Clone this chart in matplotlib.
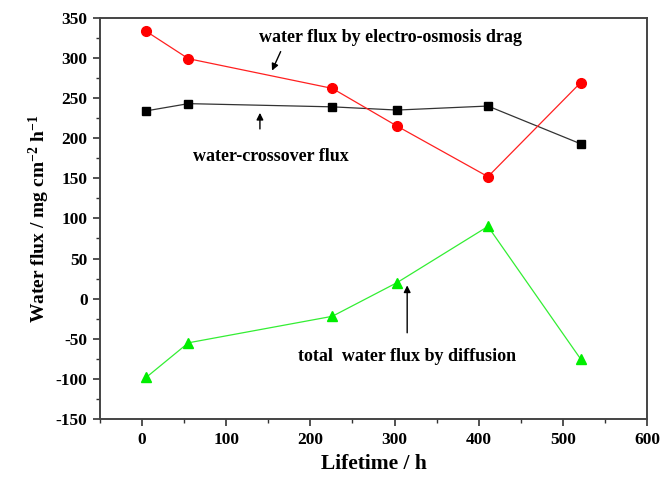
import matplotlib
matplotlib.use("Agg")
import matplotlib.pyplot as plt
from matplotlib.ticker import MultipleLocator

lifetime = [5, 55, 226, 303, 411, 521]
electro_osmosis = [333, 299, 262, 215, 152, 269]
crossover = [234, 243, 239, 235, 240, 193]
diffusion = [-98, -55, -22, 20, 90, -75]

xticks = [0, 100, 200, 300, 400, 500, 600]
yticks = [-150, -100, -50, 0, 50, 100, 150, 200, 250, 300, 350]

plt.rcParams['font.family'] = ['Liberation Serif', 'DejaVu Serif']
plt.rcParams['font.weight'] = 'bold'
plt.rcParams['axes.unicode_minus'] = False
plt.rcParams['mathtext.fontset'] = 'custom'
plt.rcParams['mathtext.rm'] = 'Liberation Serif:bold'
plt.rcParams['mathtext.bf'] = 'Liberation Serif:bold'
plt.rcParams['mathtext.default'] = 'rm'

fig = plt.figure(figsize=(6.67, 4.8), dpi=100)
ax = fig.add_axes([0.150, 0.127, 0.820, 0.836])

ax.plot(lifetime, crossover, color='#333333', lw=0.9, marker='s', ms=6,
        mfc='black', mec='black', zorder=3)
ax.plot(lifetime, electro_osmosis, color='#ff2020', lw=0.9, marker='o', ms=7,
        mfc='#ff0000', mec='#ff0000', zorder=3)
ax.plot(lifetime, diffusion, color='#33ee33', lw=0.9, marker='^', ms=7.5,
        mfc='#00ee00', mec='#00ee00', zorder=3)

ax.set_xlim(-50, 600)
ax.set_ylim(-150, 350)
ax.set_xticks(xticks)
ax.set_yticks(yticks)
ax.xaxis.set_minor_locator(MultipleLocator(50))
ax.yaxis.set_minor_locator(MultipleLocator(25))
ax.tick_params(which='major', direction='out', length=5, width=1.2, color='#333333',
               labelsize=12.5, pad=4)
ax.tick_params(which='minor', direction='out', length=3, width=1.0, color='#333333')
for lab in ax.get_xticklabels() + ax.get_yticklabels():
    lab.set_fontweight('bold')
for s in ax.spines.values():
    s.set_linewidth(1.4)
    s.set_color('#444444')

ax.set_xlabel('Lifetime / h', fontsize=15.5, fontweight='bold', labelpad=5)
ax.set_ylabel(r'Water flux / mg cm$^{-2}$ h$^{-1}$', fontsize=14,
              fontweight='bold', labelpad=3)

arrowprops = dict(arrowstyle='-|>', color='black', lw=1.0, mutation_scale=10)
ax.annotate('', xy=(153, 281), xytext=(166, 311), arrowprops=arrowprops)
ax.text(295, 325, 'water flux by electro-osmosis drag', ha='center', va='center',
        fontsize=13, fontweight='bold')
ax.annotate('', xy=(140, 235), xytext=(140, 208), arrowprops=arrowprops)
ax.text(153, 177, 'water-crossover flux', ha='center', va='center',
        fontsize=13, fontweight='bold')
ax.annotate('', xy=(315, 20), xytext=(315, -46), arrowprops=arrowprops)
ax.text(315, -72, 'total  water flux by diffusion', ha='center', va='center',
        fontsize=13, fontweight='bold')

fig.savefig('out.png', dpi=100)
